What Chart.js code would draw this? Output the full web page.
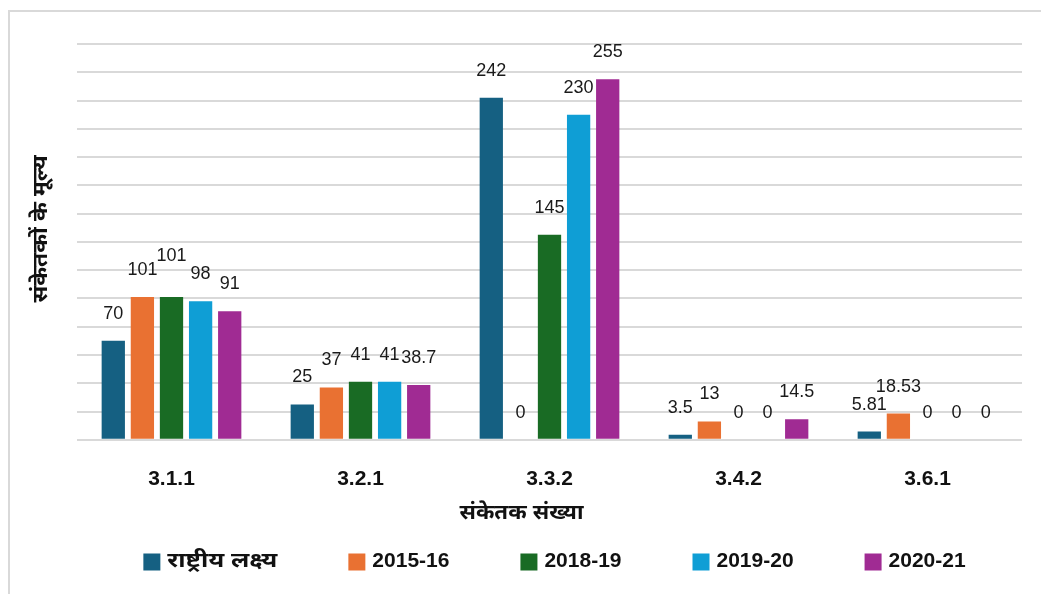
<!DOCTYPE html>
<html>
<head>
<meta charset="utf-8">
<script src="https://cdn.jsdelivr.net/npm/chart.js@4/dist/chart.umd.min.js"></script>
<style>
  html, body { margin: 0; padding: 0; background: #fff; }
  #wrap { position: absolute; left: 0; top: 0; width: 1041px; height: 594px; }
</style>
</head>
<body>
<div id="wrap"><canvas id="c" width="1041" height="594"></canvas></div>
<script>
const categories = ['3.1.1', '3.2.1', '3.3.2', '3.4.2', '3.6.1'];
const seriesNames = ['राष्ट्रीय लक्ष्य', '2015-16', '2018-19', '2019-20', '2020-21'];
const nationalTarget = [70, 25, 242, 3.5, 5.81];
const y2015_16 = [101, 37, 0, 13, 18.53];
const y2018_19 = [101, 41, 145, 0, 0];
const y2019_20 = [98, 41, 230, 0, 0];
const y2020_21 = [91, 38.7, 255, 14.5, 0];
const yMin = 0, yMax = 280, yStep = 20;
const yTitle = 'संकेतकों के मूल्य';
const xTitle = 'संकेतक संख्या';

const colors = ['#156082', '#E97132', '#196B24', '#0F9ED5', '#A02B93'];
const seriesValues = [nationalTarget, y2015_16, y2018_19, y2019_20, y2020_21];
const FONT = "'Liberation Sans', Arial, 'Noto Sans', sans-serif";
const DEVA = "bold 21px " + FONT;

// draw text horizontally stretched so that it reaches a target width
function stretchText(ctx, text, x, y, targetW, align) {
  const w = ctx.measureText(text).width;
  const s = targetW ? targetW / w : 1;
  ctx.save();
  ctx.translate(x, y);
  ctx.scale(s, 1);
  ctx.textAlign = align || 'left';
  ctx.fillText(text, 0, 0);
  ctx.restore();
  return w * s;
}

const labelPlugin = {
  id: 'valueLabels',
  afterDatasetsDraw(chart) {
    const ctx = chart.ctx;
    ctx.save();
    ctx.font = '18px ' + FONT;
    ctx.fillStyle = '#1a1a1a';
    ctx.textAlign = 'center';
    ctx.textBaseline = 'middle';
    chart.data.datasets.forEach((ds, di) => {
      const meta = chart.getDatasetMeta(di);
      meta.data.forEach((el, i) => {
        let lift = 27;
        if (di === 2 && i === 0) lift = 41;
        ctx.fillText(String(ds.data[i]), el.x, el.y - lift);
      });
    });
    ctx.restore();
  }
};

const framePlugin = {
  id: 'frameAndTitles',
  beforeDraw(chart) {
    const ctx = chart.ctx;
    ctx.save();
    ctx.strokeStyle = '#d9d9d9';
    ctx.lineWidth = 2;
    ctx.strokeRect(9, 11, 1041, 600);
    ctx.restore();
  },
  afterDraw(chart) {
    const ctx = chart.ctx;
    const area = chart.chartArea;
    ctx.save();
    ctx.fillStyle = '#111';
    ctx.textBaseline = 'middle';
    // y-axis title
    ctx.font = DEVA;
    ctx.save();
    ctx.translate(41, (area.top + area.bottom) / 2 - 13);
    ctx.rotate(-Math.PI / 2);
    stretchText(ctx, yTitle, 0, 0, 147, 'center');
    ctx.restore();
    // x-axis title
    stretchText(ctx, xTitle, chart.width / 2 + 1, 513, 124, 'center');
    // legend
    const box = 17, gap = 7, itemGap = 71;
    const items = chart.data.datasets.map((ds, i) => {
      const deva = /[\u0900-\u097F]/.test(ds.label);
      ctx.font = deva ? DEVA : 'bold 21px ' + FONT;
      const w = ctx.measureText(ds.label).width;
      const tw = deva ? 110 : w;
      return { label: ds.label, color: ds.backgroundColor, deva, tw };
    });
    let total = 0;
    items.forEach((it, i) => { total += box + gap + it.tw + (i < items.length - 1 ? itemGap : 0); });
    let x = (area.left + area.right) / 2 + 5 - total / 2;
    const cy = 561;
    items.forEach(it => {
      ctx.fillStyle = it.color;
      ctx.fillRect(x, cy - box / 2 + 1, box, box);
      ctx.fillStyle = '#111';
      ctx.font = it.deva ? DEVA : 'bold 21px ' + FONT;
      stretchText(ctx, it.label, x + box + gap, cy, it.deva ? it.tw : null, 'left');
      x += box + gap + it.tw + itemGap;
    });
    ctx.restore();
  }
};

new Chart(document.getElementById('c'), {
  type: 'bar',
  data: {
    labels: categories,
    datasets: seriesNames.map((name, k) => ({
      label: name,
      data: seriesValues[k],
      backgroundColor: colors[k],
      borderWidth: 0,
      barPercentage: 0.8,
      categoryPercentage: 0.77
    }))
  },
  options: {
    responsive: false,
    animation: false,
    devicePixelRatio: 1,
    layout: { padding: { left: 77, right: 19, top: 44, bottom: 75 } },
    plugins: {
      legend: { display: false },
      tooltip: { enabled: false }
    },
    scales: {
      x: {
        grid: { display: false, drawTicks: false },
        border: { display: false },
        ticks: { color: '#111', padding: 27, font: { family: FONT, size: 21, weight: 'bold' } }
      },
      y: {
        min: yMin, max: yMax,
        grid: { color: '#d9d9d9', lineWidth: 2, drawTicks: false },
        border: { display: false },
        ticks: { display: false, stepSize: yStep }
      }
    }
  },
  plugins: [labelPlugin, framePlugin]
});
</script>
</body>
</html>
